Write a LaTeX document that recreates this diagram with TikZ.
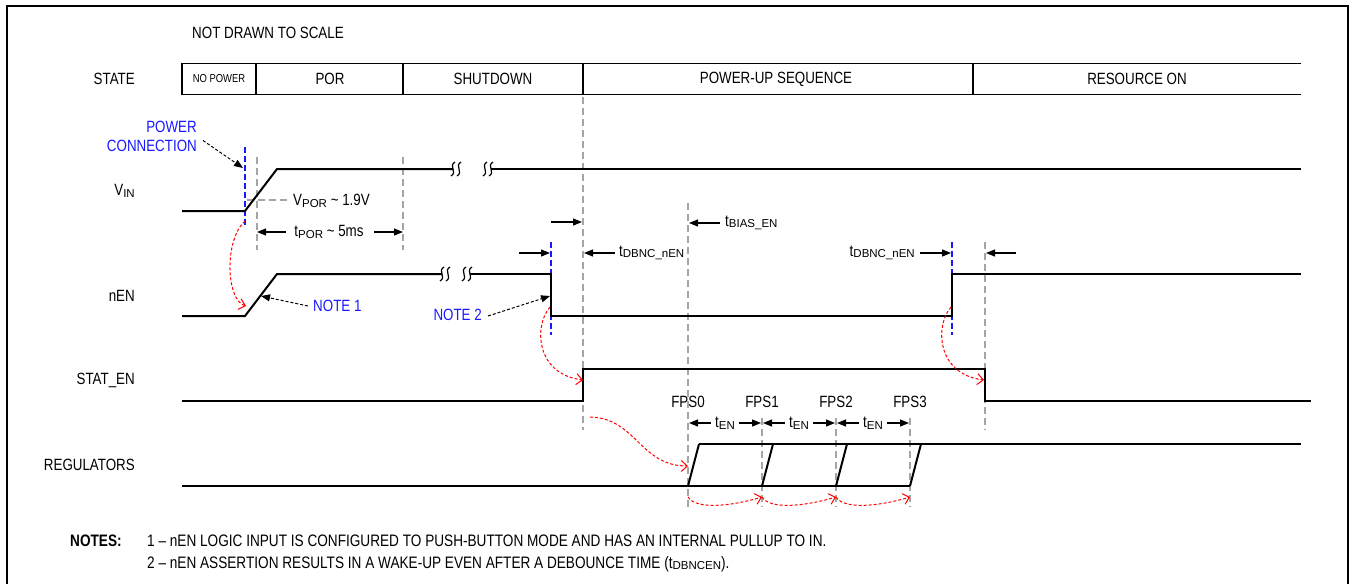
\documentclass[tikz,border=0pt]{standalone}
\usepackage{fontspec}
\setmainfont{Liberation Sans}[FakeStretch=0.82]
\newfontfamily\subfont{Liberation Sans}
\usetikzlibrary{arrows.meta,calc}
\definecolor{dimgray}{RGB}{165,165,165}
\definecolor{pinblue}{RGB}{25,25,255}
\newcommand{\sbs}[1]{\raisebox{-1.5pt}{\subfont\fontsize{11.5}{12}\selectfont #1}}
\newcommand{\sigbreak}[2]{%
  \foreach \d in {0,6}
    \draw[line width=1.2pt] ({#1+\d+2},{#2-7}) .. controls ({#1+\d-5},{#2-3})
      and ({#1+\d+5},{#2+3}) .. ({#1+\d-2},{#2+7});
}

\begin{document}
\begin{tikzpicture}[x=1pt,y=-1pt,
  font=\fontsize{16.3}{19}\selectfont,
  lbl/.style={inner sep=0pt},
  sig/.style={line width=2pt},
  guide/.style={dimgray,line width=1.5pt,dash pattern=on 7pt off 4pt},
  edgemark/.style={pinblue,line width=1.3pt,dash pattern=on 6pt off 3pt},
  cause/.style={red,line width=1pt,dash pattern=on 3pt off 2pt,
    -{Straight Barb[length=6pt,width=11pt]}},
  tarr/.style={line width=1.2pt,-{Triangle[length=9pt,width=7pt]}},
  ptr/.style={line width=1pt,dash pattern=on 3pt off 2pt,
    -{Triangle[length=9pt,width=7pt]}},
  notetxt/.style={lbl,anchor=west,font=\fontsize{16.6}{19}\selectfont}]

  \useasboundingbox (0,0) rectangle (1351,584);

  % Frame
  \draw[line width=1.5pt] (7,584) -- (7,6) -- (1348,6) -- (1348,584);
  \node[lbl,anchor=west] (scale) at (192,33) {NOT DRAWN TO SCALE};

  % State row
  \draw[line width=1.3pt] (1301,63.5) -- (182,63.5) -- (182,94.5) -- (1301,94.5);
  \foreach \x in {256,403,583,973}
    \draw[line width=1.3pt] (\x,63.5) -- (\x,94.5);
  \node[lbl,font=\fontsize{11.5}{12}\selectfont] (nopwr) at (219,79) {NO POWER};
  \foreach \x/\name/\txt in {330/por/POR, 493/shdn/SHUTDOWN,
      776/pwrup/POWER-UP SEQUENCE, 1137/rson/RESOURCE ON}
    \node[lbl] (\name) at (\x,79) {\txt};

  % Signal names
  \foreach \y/\name/\txt in {79/state/STATE, 191/vin/V\sbs{IN}, 296/nen/nEN,
      380/staten/STAT\_EN, 465/regs/REGULATORS}
    \node[lbl,anchor=east] (\name) at (135,\y) {\txt};

  % Guide lines
  \foreach \x/\ya/\yb in {257/157/250, 403/157/250, 583/97/430, 688/203/507,
      762/418/507, 836/418/507, 910/418/507, 985/242/430}
    \draw[guide] (\x,\ya) -- (\x,\yb);
  \draw[guide] (247,200) -- (287,200);
  \foreach \x/\ya/\yb in {245/147/225, 551/242/335, 952/242/335}
    \draw[edgemark] (\x,\ya) -- (\x,\yb);

  % V_IN
  \draw[sig] (182,211) -- (245,211) -- (277,169) -- (453,169);
  \draw[sig] (491,169) -- (1301,169);
  \sigbreak{453}{169}
  \sigbreak{485}{169}
  \node[lbl,anchor=west] (vpor) at (293,201) {V\sbs{POR} \textasciitilde{} 1.9V};
  \node[lbl] (tpor) at (329,232) {t\sbs{POR} \textasciitilde{} 5ms};
  \draw[tarr] (tpor.west) ++(-8,0) -- (257,232);
  \draw[tarr] (tpor.east) ++(10,0) -- (403,232);

  % Power connection
  \node[lbl,pinblue,align=right,anchor=east] (pwrcon) at (197,136.5) {POWER\\CONNECTION};
  \coordinate (pwron) at (243,168);
  \draw[ptr] (pwrcon.east) ++(6,4) -- (pwron);

  % nEN
  \draw[sig] (182,316) -- (245,316) -- (277,274) -- (442,274);
  \draw[sig] (470,274) -- (551,274) -- (551,316) -- (952,316) -- (952,274) -- (1301,274);
  \sigbreak{442}{274}
  \sigbreak{464}{274}
  \node[lbl,pinblue,anchor=west] (note1) at (313,306) {NOTE 1};
  \node[lbl,pinblue,anchor=east] (note2) at (482,315) {NOTE 2};
  \coordinate (nenramp) at (261,296);
  \coordinate (nenfall) at (550,296);
  \draw[ptr] (note1.west) ++(-5,0) -- (nenramp);
  \draw[ptr] (note2.east) ++(6,1) -- (nenfall);

  % Debounce and bias timing
  \draw[tarr] (551,222) -- (582,222);
  \draw[tarr] (519,253) -- (550,253);
  \node[lbl,anchor=west] (tdbnc) at (619,253) {t\sbs{DBNC\_nEN}};
  \draw[tarr] (tdbnc.west) ++(-4,0) -- (584,253);
  \node[lbl,anchor=west] (tbias) at (725,223) {t\sbs{BIAS\_EN}};
  \draw[tarr] (tbias.west) ++(-5,0) -- (689,223);
  \node[lbl,anchor=east] (tdbncr) at (915,253) {t\sbs{DBNC\_nEN}};
  \draw[tarr] (tdbncr.east) ++(5,0) -- (951,253);
  \draw[tarr] (1016,253) -- (986,253);

  % STAT_EN
  \draw[sig] (182,401) -- (583,401) -- (583,369) -- (985,369) -- (985,401) -- (1311,401);

  % Regulators
  \draw[sig] (182,486) -- (910,486);
  \draw[sig] (699,444) -- (1301,444);
  \foreach \x/\i in {688/0,762/1,836/2,910/3} {
    \draw[sig] (\x,486) -- (\x+11,444);
    \node[lbl] (fps\i) at (\x,402) {FPS\i};
  }
  \foreach \a/\b in {688/762,762/836,836/910} {
    \node[lbl] (ten\a) at ({(\a+\b)/2},423) {t\sbs{EN}};
    \draw[tarr] (ten\a.west) ++(-4,0) -- (\a+1,423);
    \draw[tarr] (ten\a.east) ++(4,0) -- (\b-1,423);
    \draw[cause] (\a,497) .. controls (\a+8,510) and (\b-30,506) .. (\b,497);
  }

  % Cause and effect
  \draw[cause] (245,221) .. controls (224,240) and (226,300) .. (246,306);
  \draw[cause] (550,307) .. controls (534,325) and (535,374) .. (583,380);
  \draw[cause] (590,417) .. controls (636,418) and (640,466) .. (688,466);
  \draw[cause] (951,307) .. controls (935,325) and (936,374) .. (984,380);

  % Notes
  \node[notetxt,font=\bfseries\fontsize{16.6}{19}\selectfont] (notes) at (70,541) {NOTES:};
  \node[notetxt] (note1txt) at (147,541)
    {1 -- nEN LOGIC INPUT IS CONFIGURED TO PUSH-BUTTON MODE AND HAS AN INTERNAL PULLUP TO IN.};
  \node[notetxt] (note2txt) at (147,564)
    {2 -- nEN ASSERTION RESULTS IN A WAKE-UP EVEN AFTER A DEBOUNCE TIME (t\sbs{DBNCEN}).};
\end{tikzpicture}
\end{document}
